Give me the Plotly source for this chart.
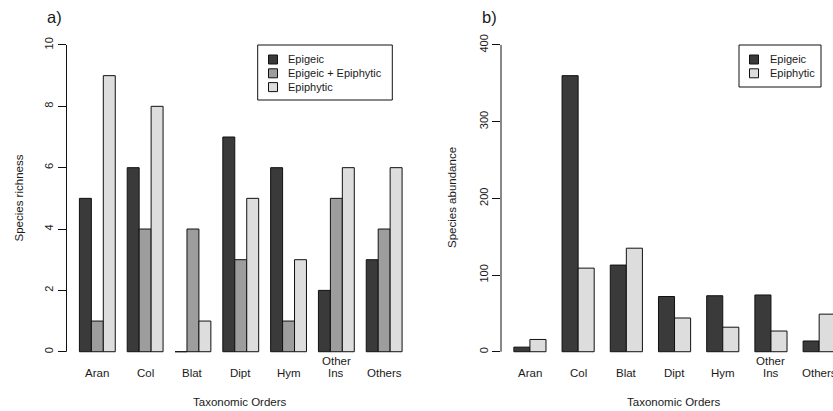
import plotly.graph_objects as go

# ---- data ----
categories = ["Aran", "Col", "Blat", "Dipt", "Hym", "Other Ins", "Others"]
tick_labels = ["Aran", "Col", "Blat", "Dipt", "Hym", "Other\nIns", "Others"]

richness_epigeic = [5, 6, 0, 7, 6, 2, 3]
richness_both = [1, 4, 4, 3, 1, 5, 4]
richness_epiphytic = [9, 8, 1, 5, 3, 6, 6]

abund_epigeic = [6, 360, 113, 72, 73, 74, 14]
abund_epiphytic = [16, 109, 135, 44, 32, 27, 49]

richness_ticks = [0, 2, 4, 6, 8, 10]
abund_ticks = [0, 100, 200, 300, 400]

series_a = ["Epigeic", "Epigeic + Epiphytic", "Epiphytic"]
series_b = ["Epigeic", "Epiphytic"]

# ---- styles ----
W, H = 833, 411
DARK, MID, LIGHT = "#3a3a3a", "#9d9d9d", "#dddddd"
FONT = "Liberation Sans, Arial, sans-serif"
TXT = "#1a1a1a"

def px_x(p):
    return p / W

def px_y(p):
    return 1 - p / H

ydom = [px_y(364), px_y(32.7)]

fig = go.Figure()

line = dict(color="#111111", width=1)
cats_idx = list(range(len(categories)))

# Panel a
for name, vals, col, off in zip(series_a,
                                [richness_epigeic, richness_both, richness_epiphytic],
                                [DARK, MID, LIGHT], [-0.375, -0.125, 0.125]):
    fig.add_trace(go.Bar(x=cats_idx, y=vals, name=name, customdata=categories,
                         marker=dict(color=col, line=line),
                         width=0.25, offset=off, xaxis="x", yaxis="y",
                         showlegend=False,
                         hovertemplate="%{customdata}: %{y}<extra>" + name + "</extra>"))

# Panel b
for name, vals, col, off in zip(series_b, [abund_epigeic, abund_epiphytic],
                                [DARK, LIGHT], [-1/3, 0]):
    fig.add_trace(go.Bar(x=cats_idx, y=vals, name=name, customdata=categories,
                         marker=dict(color=col, line=line),
                         width=1/3, offset=off, xaxis="x2", yaxis="y2",
                         showlegend=False,
                         hovertemplate="%{customdata}: %{y}<extra>" + name + "</extra>"))

common_x = dict(showticklabels=False, ticks="", showgrid=False, zeroline=False,
                showline=False, fixedrange=True)
common_y = dict(showgrid=False, zeroline=False, showline=False, ticks="outside",
                ticklen=8, tickwidth=1, tickcolor="#111111", tickangle=-90,
                tickfont=dict(family=FONT, size=11, color=TXT))

fig.update_layout(
    width=W, height=H,
    margin=dict(l=0, r=0, t=0, b=0, autoexpand=False),
    paper_bgcolor="white", plot_bgcolor="white",
    font=dict(family=FONT, size=11, color=TXT),
    barmode="group",
    showlegend=False,
    xaxis=dict(domain=[px_x(66.5), px_x(415)], range=[-0.645, 6.645], **common_x),
    yaxis=dict(domain=ydom, range=[-0.4, 10.4], tickvals=richness_ticks, **common_y),
    xaxis2=dict(domain=[px_x(501), 1], range=[-0.6, 6.287], anchor="y2", **common_x),
    yaxis2=dict(domain=ydom, range=[-16, 416], tickvals=abund_ticks, anchor="x2",
                **common_y),
)

# y axis lines spanning first to last tick (R style)
fig.add_shape(type="line", xref="x domain", yref="y", x0=0, x1=0,
              y0=richness_ticks[0], y1=richness_ticks[-1], line=line)
fig.add_shape(type="line", xref="x2 domain", yref="y2", x0=0, x1=0,
              y0=abund_ticks[0], y1=abund_ticks[-1], line=line)

ann = []

# legends (R-style boxed legends)
def add_legend(names, colors, left, right, top, bottom, sq_x, txt_x, row0, step):
    fig.add_shape(type="rect", xref="paper", yref="paper",
                  x0=px_x(left), x1=px_x(right), y0=px_y(bottom), y1=px_y(top),
                  line=dict(color="#111111", width=1), fillcolor="white")
    for k, (n, c) in enumerate(zip(names, colors)):
        cy = row0 + k * step
        fig.add_shape(type="rect", xref="paper", yref="paper",
                      x0=px_x(sq_x), x1=px_x(sq_x + 9),
                      y0=px_y(cy + 4.5), y1=px_y(cy - 4.5),
                      line=dict(color="#111111", width=1), fillcolor=c)
        ann.append(dict(text=n, xref="paper", yref="paper", x=px_x(txt_x),
                        y=px_y(cy), xanchor="left", yanchor="middle",
                        showarrow=False, font=dict(family=FONT, size=11, color=TXT)))

add_legend(series_a, [DARK, MID, LIGHT], 257.7, 392.3, 45, 100, 268.5, 286, 59.5, 13.8)
add_legend(series_b, [DARK, LIGHT], 739, 821, 45, 87, 749.5, 768, 59.5, 13.8)

# category labels (multi-line labels stack upward from the common baseline)
for xr in ["x", "x2"]:
    for i, lab in enumerate(tick_labels):
        lines = lab.split("\n")
        for k, t in enumerate(reversed(lines)):
            ann.append(dict(text=t, xref=xr, yref="paper", x=i,
                            y=px_y(373 - 12.5 * k), xanchor="center",
                            yanchor="middle", showarrow=False,
                            font=dict(family=FONT, size=11.5, color=TXT)))

# axis titles
ann += [
    dict(text="Taxonomic Orders", xref="paper", yref="paper", x=px_x(240),
         y=px_y(401.5), showarrow=False, xanchor="center", yanchor="middle",
         font=dict(family=FONT, size=11.5, color=TXT)),
    dict(text="Taxonomic Orders", xref="paper", yref="paper", x=px_x(674),
         y=px_y(401.5), showarrow=False, xanchor="center", yanchor="middle",
         font=dict(family=FONT, size=11.5, color=TXT)),
    dict(text="Species richness", xref="paper", yref="paper", x=px_x(18.5),
         y=px_y(198), showarrow=False, textangle=-90, xanchor="center",
         yanchor="middle", font=dict(family=FONT, size=11.5, color=TXT)),
    dict(text="Species abundance", xref="paper", yref="paper", x=px_x(452),
         y=px_y(198), showarrow=False, textangle=-90, xanchor="center",
         yanchor="middle", font=dict(family=FONT, size=11.5, color=TXT)),
    dict(text="a)", xref="paper", yref="paper", x=px_x(54.5), y=px_y(17),
         showarrow=False, xanchor="center", yanchor="middle",
         font=dict(family=FONT, size=16.5, color=TXT)),
    dict(text="b)", xref="paper", yref="paper", x=px_x(489), y=px_y(17),
         showarrow=False, xanchor="center", yanchor="middle",
         font=dict(family=FONT, size=16.5, color=TXT)),
]
fig.update_layout(annotations=ann)

fig.write_html("out.html",
               config={"displayModeBar": False},
               post_script="document.body.style.margin='0px';"
                           "document.body.style.padding='0px';"
                           "document.body.style.overflow='hidden';")
